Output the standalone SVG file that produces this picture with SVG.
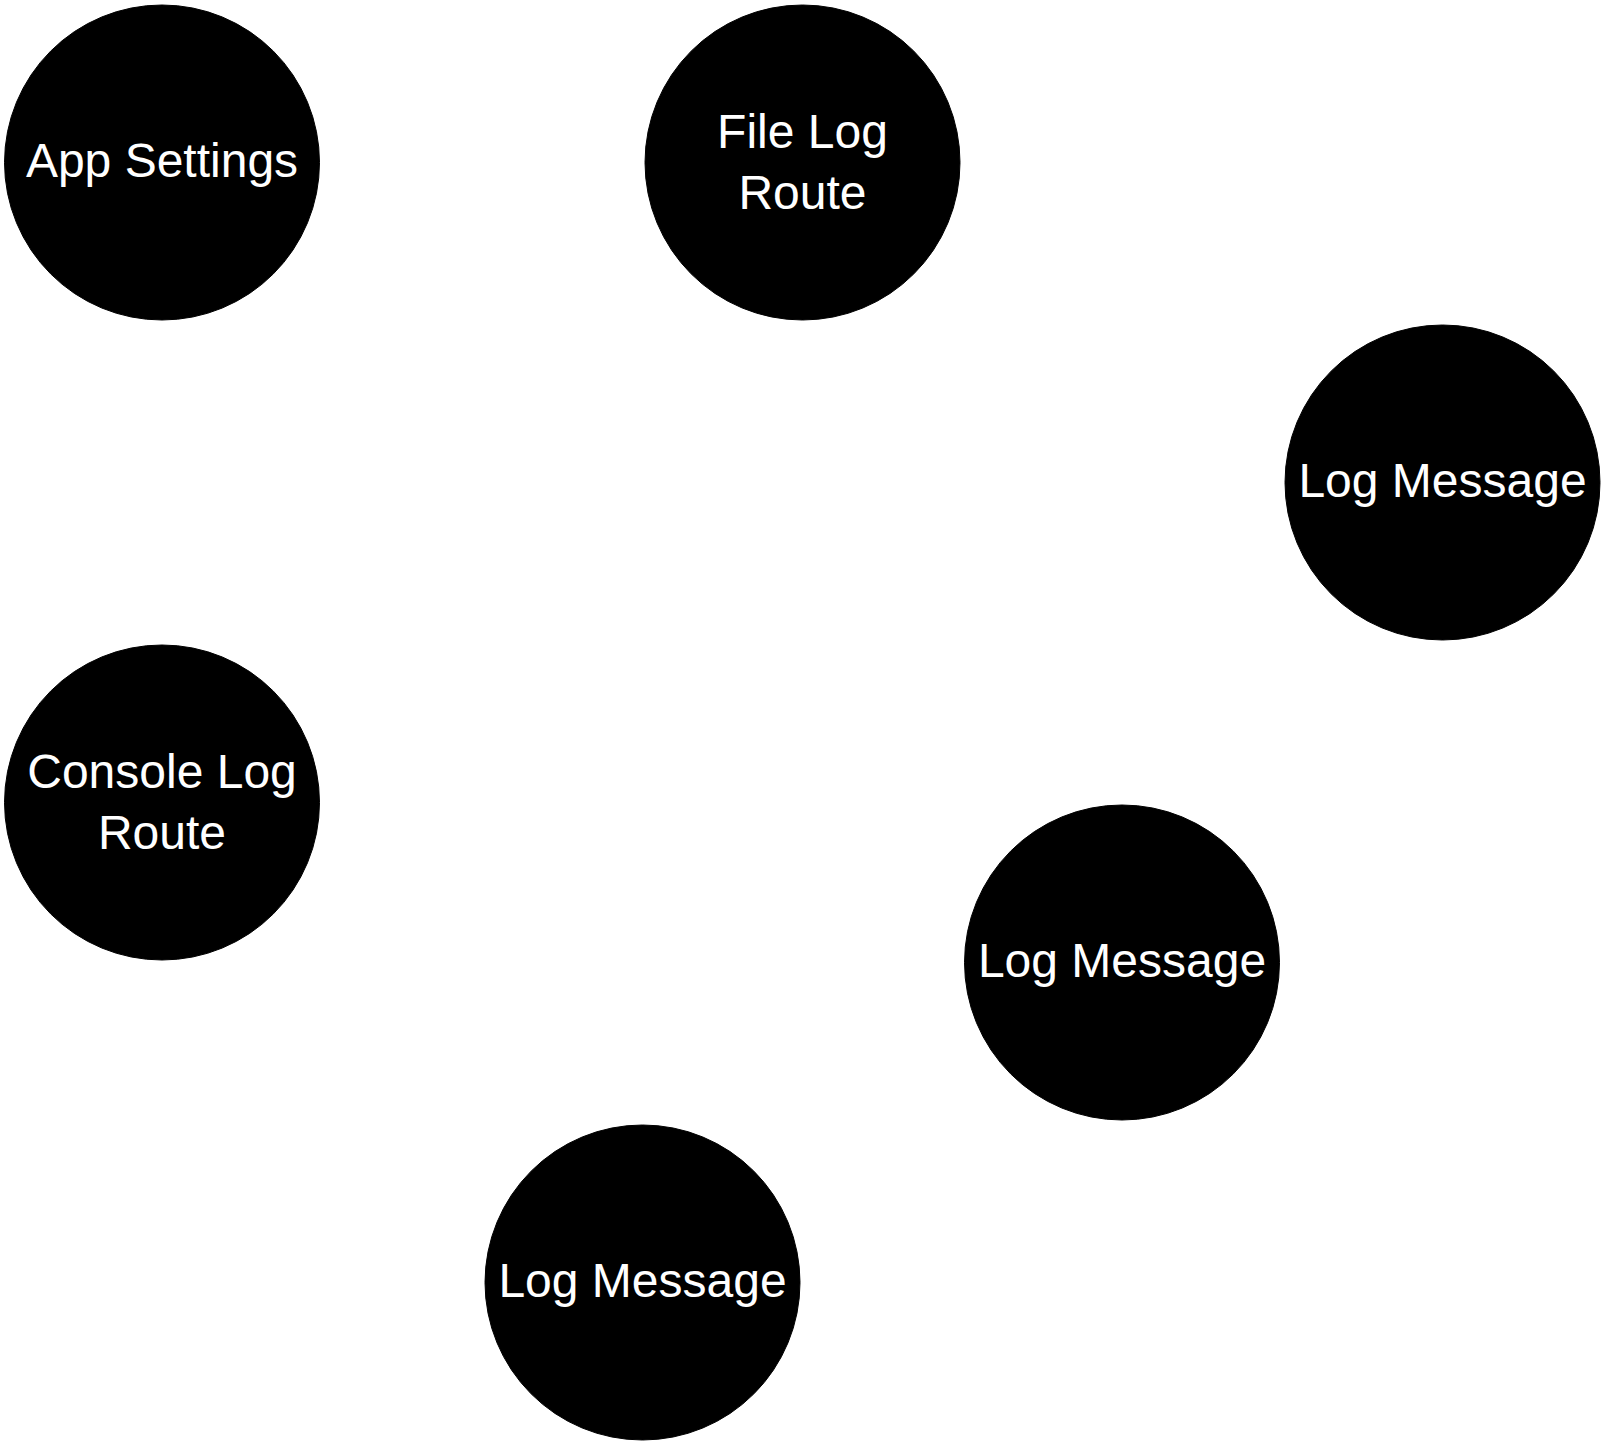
<svg xmlns="http://www.w3.org/2000/svg" width="1604" height="1444" viewBox="0 0 1604 1444">
<style>
.node circle{fill:#000;stroke:#000;stroke-width:1}
.node text{fill:#fff;font-family:"Liberation Sans",Arial,sans-serif;font-size:48px;text-anchor:middle}
</style>
<rect width="1604" height="1444" fill="#fff"/>
<g id="connectors"></g>
<g id="app-settings" class="node"><circle cx="162" cy="162.5" r="157.5"/><text x="162" y="177">App Settings</text></g>
<g id="file-log-route" class="node"><circle cx="802.5" cy="162.5" r="157.5"/><text x="802.5" y="148">File Log</text><text x="802.5" y="209">Route</text></g>
<g id="log-message-1" class="node"><circle cx="1442.5" cy="482.5" r="157.5"/><text x="1442.5" y="497">Log Message</text></g>
<g id="console-log-route" class="node"><circle cx="162" cy="802.5" r="157.5"/><text x="162" y="788">Console Log</text><text x="162" y="849">Route</text></g>
<g id="log-message-2" class="node"><circle cx="1122" cy="962.5" r="157.5"/><text x="1122" y="977">Log Message</text></g>
<g id="log-message-3" class="node"><circle cx="642.5" cy="1282.5" r="157.5"/><text x="642.5" y="1297">Log Message</text></g>
</svg>
